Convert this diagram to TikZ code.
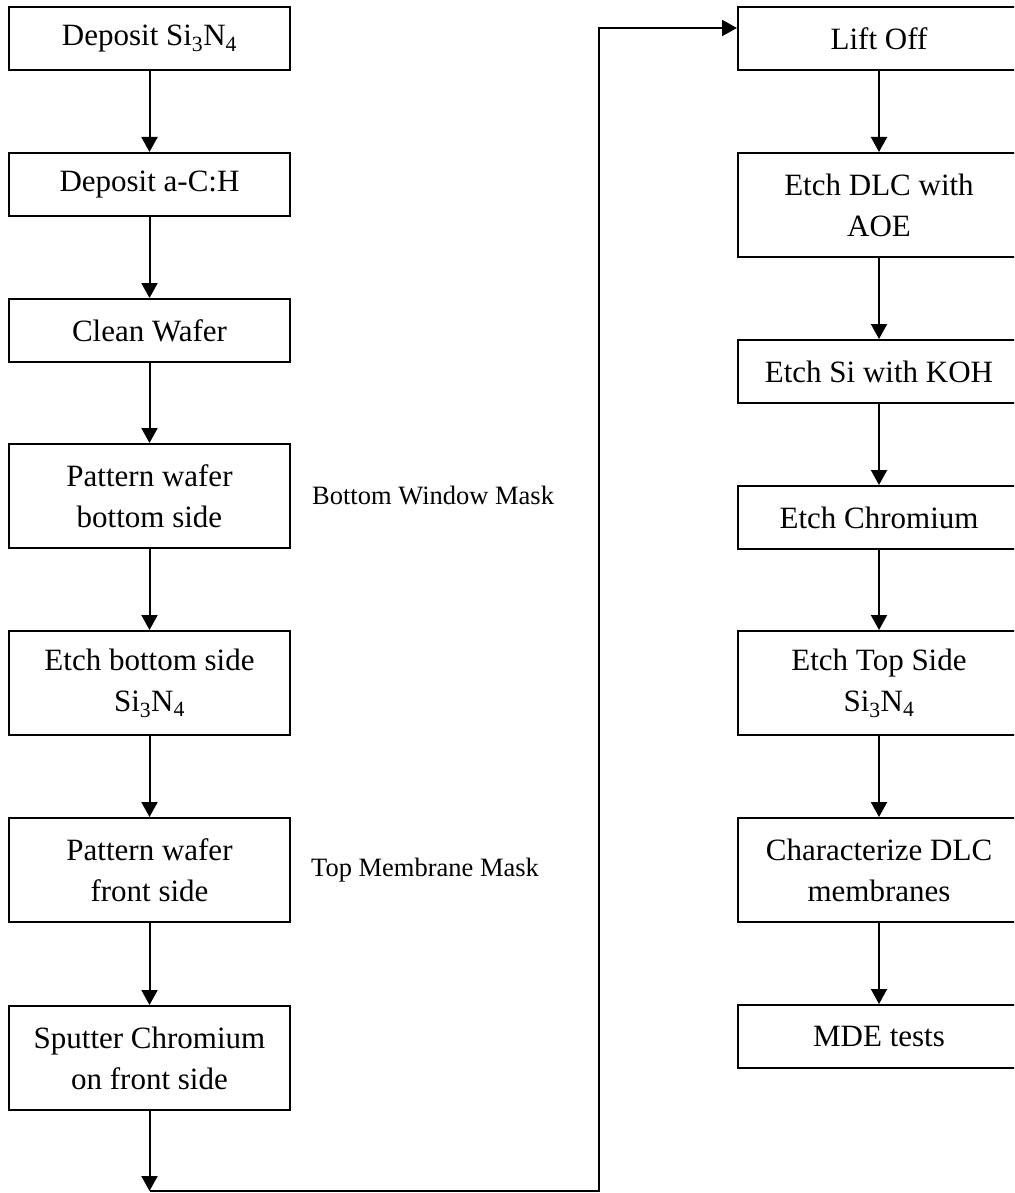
\documentclass[tikz,border=0pt]{standalone}
\usepackage{fontspec}
\setmainfont{Liberation Serif}
\usetikzlibrary{arrows.meta}
\begin{document}
\begin{tikzpicture}[x=1pt,y=-1pt,
  stepbox/.style={draw=black,line width=2pt,fill=white,inner sep=0pt,
    minimum width=281pt,align=center,font=\fontsize{31}{41}\selectfont},
  shortbox/.style={stepbox,minimum height=63pt},
  tallbox/.style={stepbox,minimum height=104pt},
  widebox/.style={stepbox,minimum width=282pt},
  masklabel/.style={anchor=west,inner sep=0pt,font=\fontsize{26.5}{32}\selectfont},
  flow/.style={line width=2pt,-{Triangle[length=15pt,width=16pt]}},
  plain/.style={line width=2pt}]
\clip (0,0) rectangle (1014,1193);
\fill[white] (0,0) rectangle (1014,1193);
% left column
\node[shortbox] (L1) at (149.5,38.5) {Deposit Si\textsubscript{3}N\textsubscript{4}};
\node[shortbox] (L2) at (149.5,184.5) {Deposit a-C:H};
\node[shortbox] (L3) at (149.5,330.5) {Clean Wafer};
\node[tallbox] (L4) at (149.5,496) {Pattern wafer\\bottom side};
\node[tallbox] (L5) at (149.5,683) {Etch bottom side\\Si\textsubscript{3}N\textsubscript{4}};
\node[tallbox] (L6) at (149.5,870) {Pattern wafer\\front side};
\node[tallbox] (L7) at (149.5,1058) {Sputter Chromium\\on front side};
% labels
\node[masklabel] (M1) at (312,496) {Bottom Window Mask};
\node[masklabel] (M2) at (311,870) {Top Membrane Mask};
% right column
\node[shortbox,widebox] (R1) at (879,38.5) {Lift Off};
\node[tallbox,widebox] (R2) at (879,205) {Etch DLC with\\AOE};
\node[shortbox,widebox] (R3) at (879,371.5) {Etch Si with KOH};
\node[shortbox,widebox] (R4) at (879,517.5) {Etch Chromium};
\node[tallbox,widebox] (R5) at (879,683) {Etch Top Side\\Si\textsubscript{3}N\textsubscript{4}};
\node[tallbox,widebox] (R6) at (879,870) {Characterize DLC\\membranes};
\node[shortbox,widebox] (R7) at (879,1036.5) {MDE tests};
% connectors
\foreach \a/\b in {L1/L2,L2/L3,L3/L4,L4/L5,L5/L6,L6/L7,R1/R2,R2/R3,R3/R4,R4/R5,R5/R6,R6/R7}
  \draw[flow] (\a.south) -- (\b.north);
\coordinate (c1) at (149.5,1191);
\coordinate (c2) at (598.5,1191);
\coordinate (c3) at (598.5,28);
\draw[flow] (L7.south) -- (c1);
\draw[plain,line join=miter] (c1) -- (c2) -- (c3) -- ([xshift=1pt]c3);
\draw[flow] (c3) -- (c3 -| R1.west);
\end{tikzpicture}
\end{document}
